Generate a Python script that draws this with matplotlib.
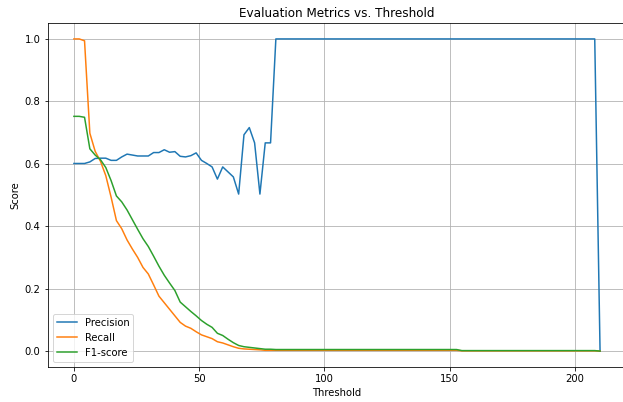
import matplotlib
matplotlib.use("Agg")
import matplotlib.pyplot as plt
import numpy as np

# Seuils (100 valeurs régulières entre 0 et 210)
thresholds = np.linspace(0, 210, 100)

precision = [
    0.601, 0.601, 0.601, 0.606, 0.617, 0.618, 0.618, 0.611, 0.611, 0.622,
    0.631, 0.628, 0.625, 0.625, 0.625, 0.636, 0.636, 0.645, 0.637, 0.639,
    0.624, 0.622, 0.626, 0.635, 0.611, 0.601, 0.590, 0.551, 0.590, 0.574,
    0.558, 0.503, 0.693, 0.716, 0.667, 0.503, 0.667, 0.667,
] + [1.0] * 61 + [0.0]

recall = [
    1.000, 1.000, 0.994, 0.698, 0.640, 0.608, 0.562, 0.493, 0.418, 0.392,
    0.356, 0.327, 0.300, 0.268, 0.247, 0.212, 0.176, 0.155, 0.134, 0.113,
    0.092, 0.080, 0.073, 0.062, 0.052, 0.046, 0.040, 0.030, 0.026, 0.020,
    0.014, 0.009, 0.007, 0.006, 0.005, 0.004,
] + [0.0025] * 37 + [0.0008] * 26 + [0.0]

f1_score = [
    0.752, 0.752, 0.749, 0.648, 0.628, 0.613, 0.588, 0.546, 0.497, 0.478,
    0.452, 0.421, 0.390, 0.360, 0.335, 0.304, 0.272, 0.243, 0.218, 0.194,
    0.157, 0.142, 0.127, 0.113, 0.098, 0.086, 0.076, 0.057, 0.050, 0.038,
    0.027, 0.018, 0.014, 0.012, 0.010, 0.008, 0.006, 0.006,
] + [0.005] * 35 + [0.0016] * 26 + [0.0]

fig = plt.figure(figsize=(623 / 72, 402 / 72), dpi=72)
# l'axe déborde un peu à droite, comme dans l'image d'origine
ax = fig.add_axes([0.0764, 0.0878, 0.9290, 0.8542])

ax.plot(thresholds, precision, label='Precision')
ax.plot(thresholds, recall, label='Recall')
ax.plot(thresholds, f1_score, label='F1-score')
ax.set_title('Evaluation Metrics vs. Threshold')
ax.set_xlabel('Threshold')
ax.set_ylabel('Score')
ax.legend(loc='lower left')
ax.grid(True)

fig.savefig('out.png', dpi=72)
